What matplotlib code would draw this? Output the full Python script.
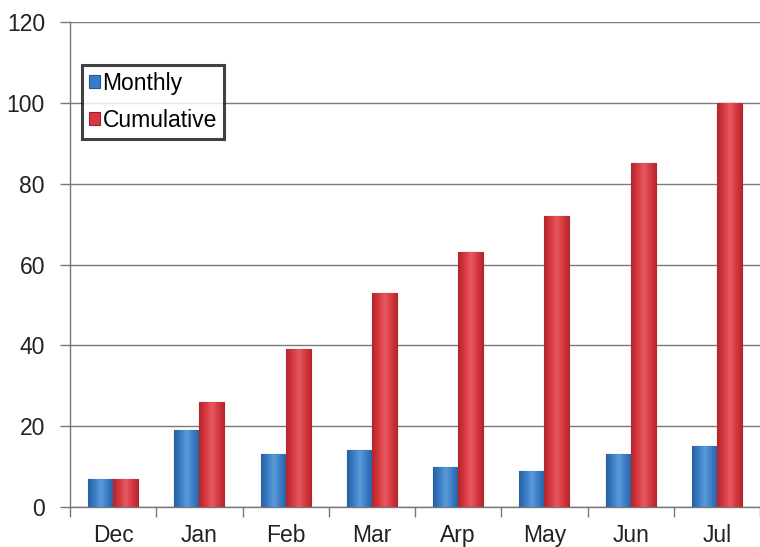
import numpy as np
import matplotlib
matplotlib.use("Agg")
import matplotlib.pyplot as plt
from matplotlib.colors import LinearSegmentedColormap

months = ["Dec", "Jan", "Feb", "Mar", "Arp", "May", "Jun", "Jul"]
monthly = [7, 19, 13, 14, 10, 9, 13, 15]
cumulative = [7, 26, 39, 53, 63, 72, 85, 100]
y_ticks = [0, 20, 40, 60, 80, 100, 120]

plt.rcParams["font.family"] = ["Liberation Sans", "DejaVu Sans"]

fig = plt.figure(figsize=(7.6, 5.47), dpi=100)
ax = fig.add_axes([70 / 760, 40 / 547, 1 - 70 / 760, 485 / 547])

x = np.arange(len(months))
w = 0.29
blue = "#3a7cc6"
red = "#d8383f"

b1 = ax.bar(x - w / 2, monthly, w, color=blue, edgecolor="#24558f", linewidth=0.8, zorder=3)
b2 = ax.bar(x + w / 2, cumulative, w, color=red, edgecolor="#9b2228", linewidth=0.8, zorder=3)

# cylindrical shading across each bar
def shade(bars, dark, mid, light):
    cmap = LinearSegmentedColormap.from_list("s", [dark, mid, light, mid, dark])
    grad = np.linspace(0, 1, 64).reshape(1, -1)
    for p in bars:
        x0, y0 = p.get_x(), p.get_y()
        im = ax.imshow(grad, cmap=cmap, aspect="auto", zorder=3.5,
                       extent=[x0, x0 + p.get_width(), y0, y0 + p.get_height()])
        im.set_clip_path(p)

shade(b1, "#2a5f9e", "#3a7cc6", "#5a9ad8")
shade(b2, "#b0262d", "#d8383f", "#e45a60")

ax.set_xlim(-0.5, 7.48)
ax.set_ylim(0, 120)
ax.set_yticks(y_ticks)
ax.set_xticks(x)
ax.set_xticklabels(months)
ax.set_xticks(np.arange(-0.5, 8, 1), minor=True)
ax.tick_params(axis="x", which="major", length=0, labelsize=16.5, pad=12, colors="#222222")
ax.tick_params(axis="x", which="minor", length=7, width=1, color="#777777")
ax.tick_params(axis="y", length=7, width=1, color="#777777", labelsize=16.5, pad=11, labelcolor="#222222")

ax.yaxis.grid(True, color="#7a7a7a", linewidth=1, zorder=0)
ax.set_axisbelow(True)
for s in ["top", "right"]:
    ax.spines[s].set_visible(False)
for s in ["left", "bottom"]:
    ax.spines[s].set_color("#777777")
    ax.spines[s].set_linewidth(1)

leg = ax.legend([b1, b2], ["Monthly", "Cumulative"], loc="upper left",
                bbox_to_anchor=(12 / 690, 1 - 43 / 485), fontsize=16.5,
                frameon=True, fancybox=False, handlelength=0.5, handleheight=0.5,
                handletextpad=0.1, borderpad=0.3, labelspacing=0.6,
                borderaxespad=0)
leg.get_frame().set_edgecolor("#111111")
leg.get_frame().set_linewidth(2.2)
leg.set_zorder(5)

fig.savefig("out.png", dpi=100)
